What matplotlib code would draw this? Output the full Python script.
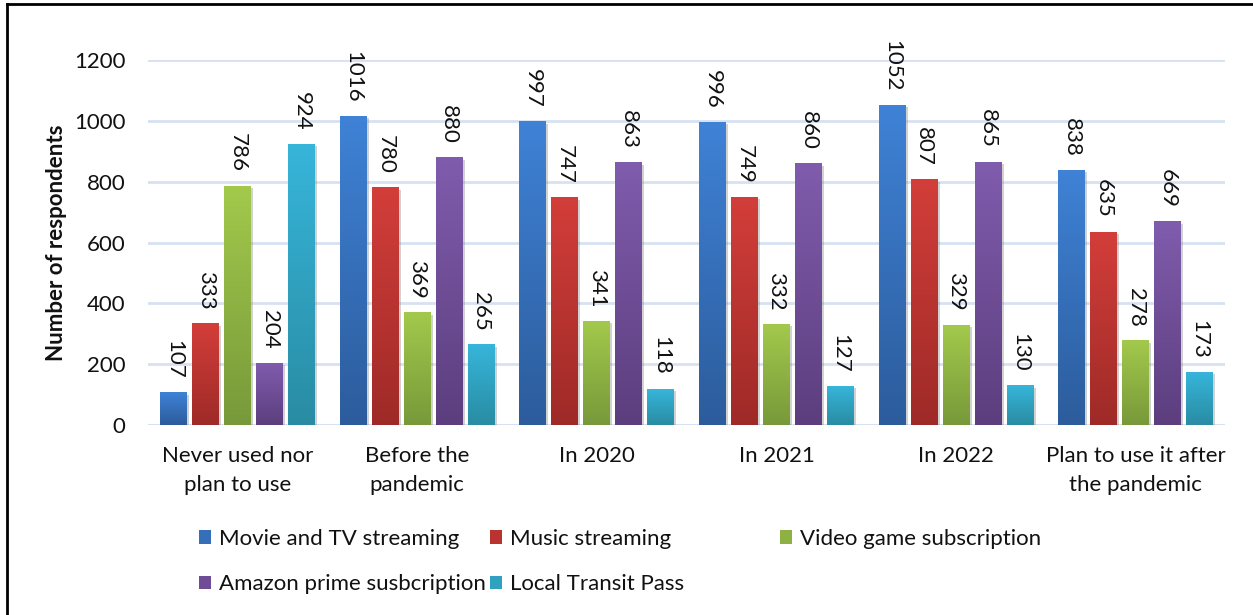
import numpy as np
import matplotlib
matplotlib.use("Agg")
import matplotlib.pyplot as plt
from matplotlib.patches import Rectangle
from matplotlib.lines import Line2D
import matplotlib.patheffects as pe

plt.rcParams['font.family'] = ['Lato', 'DejaVu Sans']

categories = ["Never used nor\nplan to use", "Before the\npandemic", "In 2020",
              "In 2021", "In 2022", "Plan to use it after\nthe pandemic"]
series_names = ["Movie and TV streaming", "Music streaming", "Video game subscription",
                "Amazon prime susbcription", "Local Transit Pass"]
movie_tv = [107, 1016, 997, 996, 1052, 838]
music = [333, 780, 747, 749, 807, 635]
video_game = [786, 369, 341, 332, 329, 278]
amazon = [204, 880, 863, 860, 865, 669]
transit = [924, 265, 118, 127, 130, 173]
series_values = [movie_tv, music, video_game, amazon, transit]
y_ticks = [0, 200, 400, 600, 800, 1000, 1200]

# (top colour, bottom colour) for the vertical gradient of each series
gradients = [("#3F82D6", "#2C5C9C"),
             ("#D33E3A", "#9E2A27"),
             ("#A3C94C", "#78993A"),
             ("#805CAD", "#5C3E7E"),
             ("#37B5DA", "#298CA3")]

FS = 16
TXT = '#111111'

fig = plt.figure(figsize=(12.53, 6.15), dpi=100)
ax = fig.add_axes([0.118, 0.309, 0.860, 0.593])

x = np.arange(len(categories))
pitch = 0.178
width = 0.15
grid_color = "#D6E1F2"


def mid_colour(a, b):
    return tuple((np.array(matplotlib.colors.to_rgb(a)) + np.array(matplotlib.colors.to_rgb(b))) / 2)


for i, (vals, (c_top, c_bot)) in enumerate(zip(series_values, gradients)):
    offs = (i - 2) * pitch
    bars = ax.bar(x + offs, vals, width, color=mid_colour(c_top, c_bot), zorder=2,
                  path_effects=[pe.SimplePatchShadow(offset=(1.5, -1.5), shadow_rgbFace='#808080', alpha=0.35),
                                pe.Normal()])
    top = np.array(matplotlib.colors.to_rgb(c_top))
    bot = np.array(matplotlib.colors.to_rgb(c_bot))
    t = np.linspace(0, 1, 256)[:, None]
    grad = (bot * (1 - t) + top * t)[:, None, :]
    for b, v in zip(bars, vals):
        x0 = b.get_x()
        ax.imshow(grad, extent=(x0, x0 + b.get_width(), 0, b.get_height()),
                  origin='lower', aspect='auto', zorder=3, interpolation='bilinear')
        ax.annotate(f"{v}", (x0 + b.get_width() / 2, v), xytext=(0, 10),
                    textcoords='offset points', rotation=270, ha='center', va='bottom',
                    fontsize=FS, color=TXT, annotation_clip=False)

ax.set_xlim(-0.5, len(categories) - 0.5)
ax.set_ylim(0, 1200)
ax.set_yticks(y_ticks)
ax.set_yticklabels([str(v) for v in y_ticks], fontsize=FS, color=TXT)
ax.set_xticks(x)
ax.set_xticklabels(categories, fontsize=FS, color=TXT, linespacing=1.55)
ax.tick_params(axis='both', length=0)
ax.tick_params(axis='x', pad=15)
ax.tick_params(axis='y', pad=16)
ax.yaxis.grid(True, color=grid_color, linewidth=2, zorder=0)
ax.set_axisbelow(True)
for s in ax.spines.values():
    s.set_visible(False)
ax.axhline(0, color=grid_color, linewidth=2, zorder=1)
ax.set_ylabel("Number of respondents", fontsize=FS, fontweight='bold', color=TXT, labelpad=5)

# legend laid out in three equal-width columns
handles = [Rectangle((0, 0), 1, 1, facecolor=mid_colour(a, b)) for a, b in gradients]
columns = [[0, 3], [1, 4], [2]]
col_x = [0.1585, 0.391, 0.6225]
for cx, idxs in zip(col_x, columns):
    fig.legend([handles[k] for k in idxs], [series_names[k] for k in idxs],
               loc='upper left', bbox_to_anchor=(cx, 0.140), frameon=False,
               fontsize=FS, handlelength=0.55, handleheight=0.55, handletextpad=0.35,
               labelspacing=1.15, borderaxespad=0, borderpad=0,
               labelcolor=TXT)

# frame lines along the top and left edges
fig.add_artist(Line2D([0.0055, 0.0055], [0, 0.993], transform=fig.transFigure, color='black', linewidth=2))
fig.add_artist(Line2D([0.0055, 1.0], [0.993, 0.993], transform=fig.transFigure, color='black', linewidth=2))

fig.savefig("out.png", dpi=100)
